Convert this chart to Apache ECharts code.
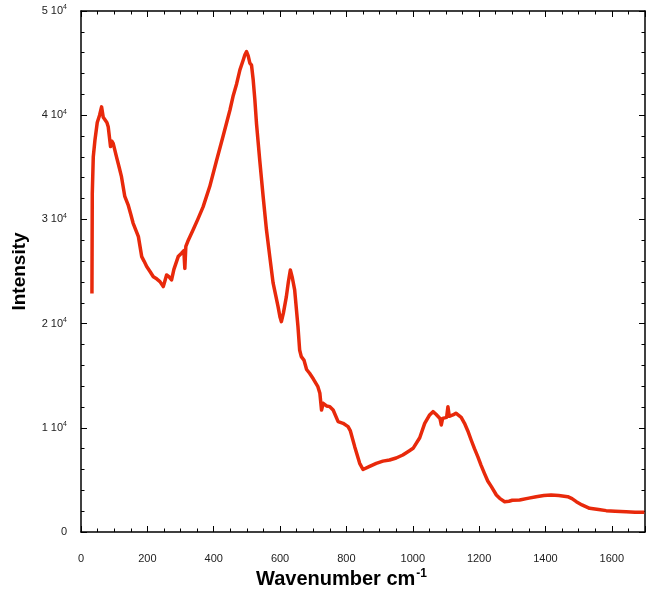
<!DOCTYPE html>
<html>
<head>
<meta charset="utf-8">
<style>
  html, body { margin: 0; padding: 0; background: #fff; }
  #chart { width: 653px; height: 592px; }
</style>
<script src="https://cdn.jsdelivr.net/npm/echarts@6/dist/echarts.min.js"></script>
</head>
<body>
<div id="chart"></div>
<script>
// Raman spectrum: wavenumber (cm-1) and measured intensity
const wavenumber = [
  33, 34, 37, 42, 49, 56, 62, 67, 72, 78, 82, 89, 93, 97, 107, 115, 122, 132, 142, 150,
  157, 165, 173, 183, 190, 198, 208, 218, 228, 238, 244, 248, 252, 258, 265, 273, 280, 293, 303, 310,
  313, 316, 322, 338, 352, 368, 388, 409, 428, 449, 459, 469, 479, 489, 494, 499, 504, 509, 514, 519,
  524, 529, 539, 549, 559, 569, 579, 594, 600, 604, 610, 619, 625, 631, 637, 644, 654, 659, 664, 672,
  680, 689, 700, 705, 714, 720, 725, 730, 740, 750, 760, 775, 790, 805, 812, 825, 840, 850, 855, 870,
  890, 910, 930, 950, 970, 990, 1001, 1021, 1036, 1050, 1061, 1070, 1076, 1082, 1086, 1090, 1096, 1102, 1106, 1110,
  1121, 1130, 1136, 1146, 1156, 1166, 1176, 1186, 1196, 1206, 1216, 1226, 1237, 1252, 1262, 1277, 1290, 1300, 1322, 1350,
  1372, 1395, 1417, 1440, 1467, 1480, 1493, 1510, 1533, 1560, 1583, 1610, 1643, 1670, 1698
];
const intensity = [
  22900, 32500, 36000, 37600, 39300, 40000, 40800, 39800, 39700, 39300, 38900, 37000, 37500, 37300, 36000, 35000, 34100, 32200, 31400, 30500,
  29650, 29000, 28350, 26430, 26000, 25470, 25000, 24500, 24300, 24030, 23900, 23550, 24000, 24670, 24500, 24190, 25200, 26430, 26750, 27000,
  25300, 27400, 27900, 29000, 30000, 31200, 33150, 35700, 37950, 40500, 41900, 43000, 44350, 45300, 45800, 46100, 45700, 45000, 44800, 43400,
  41500, 39200, 35600, 32200, 29000, 26430, 23900, 21630, 20600, 20190, 21000, 22590, 24000, 25150, 24400, 23230, 19710, 17470, 16830, 16500,
  15600, 15230, 14700, 14750, 13950, 13310, 11710, 12350, 12100, 12030, 11710, 10590, 10430, 10110, 9700, 8190, 6590, 6000, 5950, 6300,
  6590, 6800, 6910, 7100, 7390, 7800, 8030, 9050, 10430, 11200, 11550, 11300, 11230, 10900, 10270, 10900, 10910, 11000, 12030, 11100,
  11230, 11400, 11390, 11000, 10430, 9700, 8830, 8000, 7230, 6400, 5630, 4900, 4350, 3550, 3230, 2910, 2950, 3050, 3070, 3250,
  3390, 3500, 3550, 3500, 3390, 3200, 2910, 2600, 2270, 2150, 2050, 2000, 1950, 1900, 1900
];

// Tick label text for the intensity axis (mantissa, exponent)
const yTickMantissa = ['0', '1 10', '2 10', '3 10', '4 10', '5 10'];
const yTickExponent = ['', '4', '4', '4', '4', '4'];

const xMin = 0, xMax = 1700, xStep = 200;
const yMin = 0, yMax = 50000, yStep = 10000;

const chart = echarts.init(document.getElementById('chart'), null, { renderer: 'canvas' });

const font = 'Liberation Sans, Arial, sans-serif';
// frame lines stay on the grid edges (not snapped to the other axis' zero)
const axisLine = { show: true, onZero: false, lineStyle: { color: '#000', width: 1.5 } };
const majorTick = { show: true, inside: true, length: 6, lineStyle: { color: '#000', width: 1 } };
const minorTick = { show: true, length: 3.5, lineStyle: { color: '#000', width: 1 } };

const pts = wavenumber.map((w, i) => [w, intensity[i]]);

chart.setOption({
  animation: false,
  backgroundColor: '#fff',
  title: {
    text: '{b|Wavenumber cm}{s|-1}',
    left: 251,
    top: 563,
    textStyle: {
      rich: {
        b: { fontFamily: font, fontWeight: 'bold', fontSize: 20, color: '#000' },
        s: { fontFamily: font, fontWeight: 'bold', fontSize: 12, color: '#000', padding: [0, 0, 10, 1] }
      }
    }
  },
  grid: { left: 81, right: 8, top: 11, bottom: 60, containLabel: false, outerBoundsMode: 'none' },
  xAxis: [
    {
      type: 'value', min: xMin, max: xMax, interval: xStep,
      axisLine, axisTick: majorTick, minorTick: Object.assign({ splitNumber: 4 }, minorTick),
      splitLine: { show: false },
      axisLabel: {
        margin: 21, fontFamily: font, fontSize: 11, color: '#222',
        showMaxLabel: false,
        formatter: (v) => String(v)
      }
    },
    {
      type: 'value', position: 'top', min: xMin, max: xMax, interval: xStep,
      axisLine, axisTick: majorTick, minorTick: Object.assign({ splitNumber: 4 }, minorTick),
      splitLine: { show: false }, axisLabel: { show: false }
    }
  ],
  yAxis: [
    {
      type: 'value', min: yMin, max: yMax, interval: yStep,
      name: 'Intensity', nameLocation: 'middle', nameGap: 52,
      nameTextStyle: { fontFamily: font, fontWeight: 'bold', fontSize: 19, color: '#000' },
      axisLine, axisTick: majorTick, minorTick: Object.assign({ splitNumber: 5 }, minorTick),
      splitLine: { show: false },
      axisLabel: {
        margin: 14, fontFamily: font, fontSize: 11, color: '#222',
        formatter: (v) => {
          const i = Math.round(v / yStep);
          return yTickExponent[i] ? '{m|' + yTickMantissa[i] + '}{e|' + yTickExponent[i] + '}' : '{m|' + yTickMantissa[i] + '}';
        },
        rich: {
          m: { fontFamily: font, fontSize: 11, color: '#222' },
          e: { fontFamily: font, fontSize: 7, color: '#222', padding: [0, 0, 7, 0] }
        }
      }
    },
    {
      type: 'value', position: 'right', min: yMin, max: yMax, interval: yStep,
      axisLine, axisTick: majorTick, minorTick: Object.assign({ splitNumber: 5 }, minorTick),
      splitLine: { show: false }, axisLabel: { show: false }
    }
  ],
  series: [
    {
      type: 'line',
      data: pts,
      xAxisIndex: 0, yAxisIndex: 0,
      showSymbol: false,
      smooth: false,
      lineStyle: { color: '#e8290b', width: 3.5, join: 'round' },
      clip: true
    }
  ]
});
</script>
</body>
</html>
